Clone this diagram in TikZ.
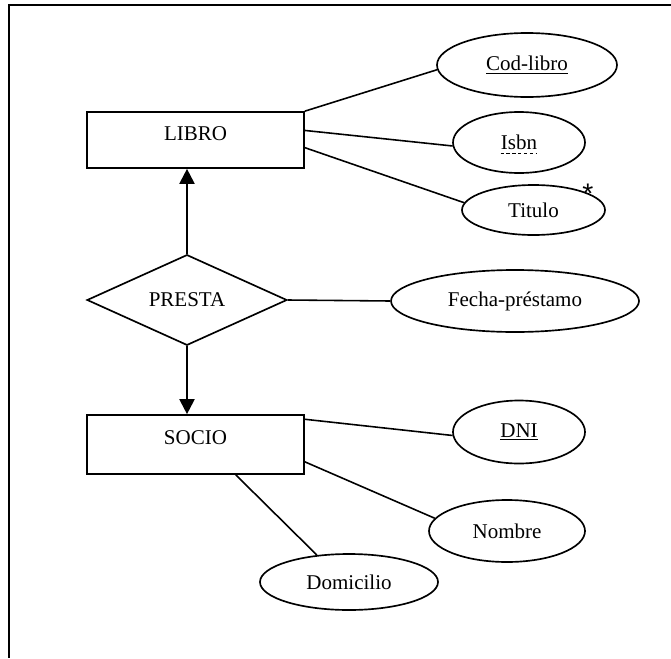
\documentclass[tikz,border=0pt]{standalone}
\usepackage{fontspec}
\setmainfont{Liberation Serif}
\newfontfamily\asterisco{Liberation Sans}
\usetikzlibrary{shapes.geometric,arrows.meta}

\begin{document}
\begin{tikzpicture}[x=0.6pt,y=-0.6pt,
  every node/.style={font=\fontsize{12.6}{15}\selectfont},
  entidad/.style={draw,line width=1pt,inner sep=0pt,minimum width=130.2pt,text height=1ex,text depth=1ex},
  atributo/.style={draw,ellipse,line width=1pt,inner sep=0pt},
  relacion/.style={draw,diamond,line width=1pt,inner sep=0pt,minimum width=120pt,minimum height=51.6pt},
  linea/.style={line width=0.95pt},
  flecha/.style={-{Triangle[length=9pt,width=9pt]},line width=1.2pt}]
  \useasboundingbox (0,0) rectangle (671,658);
  \draw[line width=1.3pt] (671,5) -- (9,5) -- (9,658);
  % entidades y relacion
  \node[entidad,minimum height=33.6pt] (libro) at (195.5,140) {LIBRO};
  \node[relacion] (presta) at (187,300) {PRESTA};
  \node[entidad,minimum height=35.4pt] (socio) at (195.5,444.5) {SOCIO};
  % atributos
  \node[atributo,minimum width=108pt,minimum height=38.4pt] (codlibro) at (527,65) {\underline{Cod-libro}};
  \node[atributo,minimum width=79.2pt,minimum height=36.6pt] (isbn) at (519,142.5) {};
  \node[inner sep=0pt] (isbntxt) at (isbn) {Isbn};
  \node[atributo,minimum width=85.8pt,minimum height=30pt] (titulo) at (533.5,210) {Titulo};
  \node[anchor=base,inner sep=0pt,font=\asterisco\fontsize{17}{20}\selectfont] (ast) at (588,203) {*};
  \node[atributo,minimum width=148.8pt,minimum height=37.2pt] (fecha) at (515,301) {Fecha-préstamo};
  \node[atributo,minimum width=79.2pt,minimum height=37.8pt] (dni) at (519,432) {\underline{DNI}};
  \node[atributo,minimum width=93.6pt,minimum height=37.2pt] (nombre) at (507,531) {Nombre};
  \node[atributo,minimum width=106.8pt,minimum height=33.6pt] (domicilio) at (349,582) {Domicilio};
  % subrayado discontinuo de Isbn
  \draw[dash pattern=on 2pt off 1.5pt,line width=0.6pt]
    ([yshift=-2.2pt]isbntxt.base west) -- ([yshift=-2.2pt]isbntxt.base east);
  % conexiones
  \draw[flecha] (presta.north) -- (presta.north |- libro.south);
  \draw[flecha] (presta.south) -- (presta.south |- socio.north);
  \draw[linea] (libro.north east) -- (codlibro.183);
  \draw[linea] (libro.5) -- (isbn.183);
  \draw[linea] (libro.-4) -- (titulo.174);
  \draw[linea] (presta.east) -- (fecha.west);
  \draw[linea] (socio.13) -- (dni.183);
  \draw[linea] (socio.-9) -- (nombre.170);
  \draw[linea] (socio.-37.5) -- (domicilio.140);
\end{tikzpicture}
\end{document}
